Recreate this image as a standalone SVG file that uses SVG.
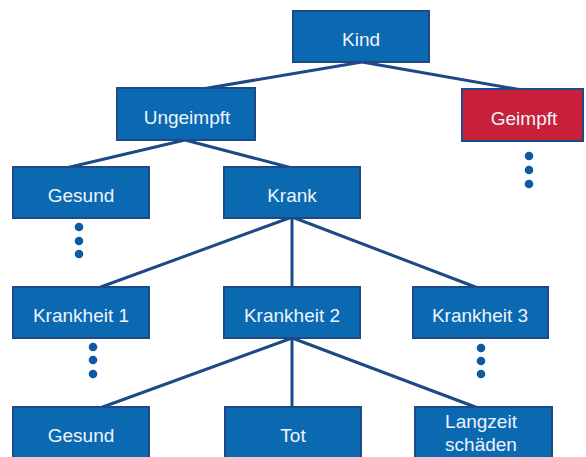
<svg xmlns="http://www.w3.org/2000/svg" width="586" height="457" viewBox="0 0 586 457">
  <style>
    .box { fill: #0b69b2; stroke: #1d4a86; stroke-width: 2; }
    .red { fill: #c8203a; stroke: #1d4a86; stroke-width: 2; }
    .lbl { fill: #eef4fa; font-family: "Liberation Sans", Arial, sans-serif; font-size: 19px; text-anchor: middle; }
    .edge { stroke: #1d4a86; stroke-width: 3; fill: none; }
    .dot { fill: #0d5aa2; }
  </style>
  <rect width="586" height="457" fill="#ffffff"/>

  <g id="connectors">
    <line class="edge" x1="362" y1="62" x2="202" y2="89"/>
    <line class="edge" x1="362" y1="62" x2="522" y2="90"/>
    <line class="edge" x1="185" y1="140" x2="66" y2="168"/>
    <line class="edge" x1="185" y1="140" x2="292" y2="168"/>
    <line class="edge" x1="292" y1="217" x2="98" y2="288"/>
    <line class="edge" x1="292" y1="217" x2="292" y2="288"/>
    <line class="edge" x1="292" y1="217" x2="478" y2="288"/>
    <line class="edge" x1="292" y1="338" x2="100" y2="408"/>
    <line class="edge" x1="292" y1="338" x2="292" y2="408"/>
    <line class="edge" x1="292" y1="338" x2="478" y2="408"/>
  </g>

  <g id="kind">
    <rect class="box" x="293" y="11" width="136" height="51"/>
    <text class="lbl" x="361" y="46">Kind</text>
  </g>
  <g id="ungeimpft">
    <rect class="box" x="117" y="88" width="138" height="52"/>
    <text class="lbl" x="187" y="124">Ungeimpft</text>
  </g>
  <g id="geimpft">
    <rect class="red" x="462" y="89" width="121" height="52"/>
    <text class="lbl" x="524" y="125">Geimpft</text>
    <circle class="dot" cx="529" cy="156" r="4.3"/>
    <circle class="dot" cx="529" cy="170" r="4.3"/>
    <circle class="dot" cx="529" cy="184" r="4.3"/>
  </g>
  <g id="gesund-1">
    <rect class="box" x="13" y="167" width="136" height="51"/>
    <text class="lbl" x="81" y="202">Gesund</text>
    <circle class="dot" cx="79" cy="227" r="4.3"/>
    <circle class="dot" cx="79" cy="241" r="4.3"/>
    <circle class="dot" cx="79" cy="254" r="4.3"/>
  </g>
  <g id="krank">
    <rect class="box" x="224" y="167" width="136" height="51"/>
    <text class="lbl" x="292" y="202">Krank</text>
  </g>
  <g id="krankheit-1">
    <rect class="box" x="13" y="287" width="136" height="51"/>
    <text class="lbl" x="81" y="322">Krankheit 1</text>
    <circle class="dot" cx="93" cy="347" r="4.3"/>
    <circle class="dot" cx="93" cy="360" r="4.3"/>
    <circle class="dot" cx="93" cy="374" r="4.3"/>
  </g>
  <g id="krankheit-2">
    <rect class="box" x="224" y="287" width="136" height="51"/>
    <text class="lbl" x="292" y="322">Krankheit 2</text>
  </g>
  <g id="krankheit-3">
    <rect class="box" x="413" y="287" width="135" height="51"/>
    <text class="lbl" x="480" y="322">Krankheit 3</text>
    <circle class="dot" cx="481" cy="348" r="4.3"/>
    <circle class="dot" cx="481" cy="361" r="4.3"/>
    <circle class="dot" cx="481" cy="374" r="4.3"/>
  </g>
  <g id="gesund-2">
    <rect class="box" x="13" y="407" width="136" height="60"/>
    <text class="lbl" x="81" y="442">Gesund</text>
  </g>
  <g id="tot">
    <rect class="box" x="225" y="407" width="136" height="60"/>
    <text class="lbl" x="293" y="442">Tot</text>
  </g>
  <g id="langzeitschaeden">
    <rect class="box" x="415" y="407" width="137" height="60"/>
    <text class="lbl" x="481" y="428">Langzeit</text>
    <text class="lbl" x="481" y="451">schäden</text>
  </g>
</svg>
